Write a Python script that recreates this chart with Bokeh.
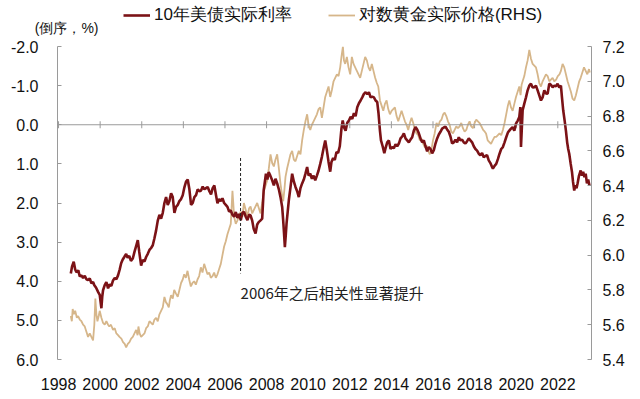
import math
from bokeh.plotting import figure
from bokeh.layouts import column
from bokeh.models import (Range1d, LinearAxis, FixedTicker, PrintfTickFormatter,
                          Span, Label, Legend, LegendItem)
from bokeh.embed import file_html
from bokeh.resources import INLINE

# ---------------- data ----------------
red_name = "10年美债实际利率"
gold_name = "对数黄金实际价格(RHS)"
left_ticks = [-2, -1, 0, 1, 2, 3, 4, 5, 6]
right_ticks = [5.4, 5.6, 5.8, 6.0, 6.2, 6.4, 6.6, 6.8, 7.0, 7.2]
x_ticks = [1998, 2000, 2002, 2004, 2006, 2008, 2010, 2012, 2014, 2016, 2018, 2020, 2022]

red_years = [
    1998.59, 1998.65, 1998.73, 1998.80, 1998.86, 1998.95, 1999.02, 1999.10, 1999.18, 1999.26,
    1999.34, 1999.42, 1999.50, 1999.58, 1999.66, 1999.72, 1999.80, 1999.90, 1999.98, 2000.06,
    2000.10, 2000.14, 2000.22, 2000.30, 2000.38, 2000.46, 2000.54, 2000.62, 2000.70, 2000.78,
    2000.86, 2000.94, 2001.01, 2001.08, 2001.16, 2001.25, 2001.32, 2001.40, 2001.48, 2001.57,
    2001.65, 2001.73, 2001.81, 2001.88, 2001.97, 2002.05, 2002.13, 2002.21, 2002.29, 2002.37,
    2002.45, 2002.53, 2002.61, 2002.69, 2002.77, 2002.85, 2002.93, 2003.01, 2003.09, 2003.17,
    2003.25, 2003.33, 2003.41, 2003.49, 2003.57, 2003.65, 2003.73, 2003.81, 2003.89, 2003.97,
    2004.05, 2004.13, 2004.21, 2004.29, 2004.37, 2004.45, 2004.53, 2004.61, 2004.69, 2004.77,
    2004.85, 2004.93, 2005.01, 2005.09, 2005.17, 2005.25, 2005.33, 2005.41, 2005.49, 2005.57,
    2005.64, 2005.72, 2005.80, 2005.88, 2005.96, 2006.04, 2006.12, 2006.20, 2006.28, 2006.36,
    2006.44, 2006.52, 2006.60, 2006.68, 2006.76, 2006.84, 2006.92, 2007.00, 2007.08, 2007.16,
    2007.23, 2007.31, 2007.38, 2007.47, 2007.55, 2007.62, 2007.70, 2007.79, 2007.86, 2007.92,
    2007.97, 2008.04, 2008.10, 2008.18, 2008.27, 2008.35, 2008.43, 2008.51, 2008.59, 2008.67,
    2008.75, 2008.80, 2008.84, 2008.88, 2008.92, 2008.96, 2009.02, 2009.07, 2009.15, 2009.23,
    2009.31, 2009.39, 2009.47, 2009.55, 2009.63, 2009.71, 2009.79, 2009.87, 2009.95, 2010.02,
    2010.10, 2010.18, 2010.26, 2010.34, 2010.42, 2010.50, 2010.58, 2010.66, 2010.74, 2010.82,
    2010.90, 2010.98, 2011.06, 2011.12, 2011.20, 2011.28, 2011.36, 2011.44, 2011.52, 2011.60,
    2011.66, 2011.72, 2011.80, 2011.88, 2011.96, 2012.04, 2012.12, 2012.20, 2012.28, 2012.36,
    2012.44, 2012.52, 2012.60, 2012.68, 2012.76, 2012.84, 2012.92, 2013.00, 2013.08, 2013.16,
    2013.24, 2013.32, 2013.38, 2013.45, 2013.50, 2013.58, 2013.66, 2013.72, 2013.80, 2013.88,
    2013.96, 2014.04, 2014.12, 2014.20, 2014.28, 2014.36, 2014.44, 2014.52, 2014.60, 2014.68,
    2014.76, 2014.84, 2014.92, 2015.00, 2015.08, 2015.16, 2015.24, 2015.32, 2015.40, 2015.48,
    2015.56, 2015.64, 2015.72, 2015.80, 2015.88, 2015.96, 2016.04, 2016.12, 2016.20, 2016.28,
    2016.36, 2016.44, 2016.52, 2016.60, 2016.68, 2016.76, 2016.84, 2016.92, 2017.00, 2017.08,
    2017.16, 2017.24, 2017.32, 2017.40, 2017.48, 2017.56, 2017.64, 2017.72, 2017.80, 2017.88,
    2017.96, 2018.04, 2018.12, 2018.20, 2018.28, 2018.36, 2018.44, 2018.52, 2018.60, 2018.68,
    2018.76, 2018.84, 2018.88, 2018.96, 2019.04, 2019.12, 2019.20, 2019.28, 2019.36, 2019.44,
    2019.52, 2019.60, 2019.67, 2019.75, 2019.83, 2019.91, 2019.99, 2020.07, 2020.15, 2020.20,
    2020.23, 2020.27, 2020.31, 2020.39, 2020.47, 2020.55, 2020.63, 2020.71, 2020.79, 2020.87,
    2020.95, 2021.03, 2021.11, 2021.19, 2021.27, 2021.35, 2021.43, 2021.51, 2021.59, 2021.67,
    2021.75, 2021.83, 2021.91, 2021.99, 2022.07, 2022.15, 2022.20, 2022.26, 2022.33, 2022.39,
    2022.45, 2022.50, 2022.55, 2022.62, 2022.68, 2022.73, 2022.79, 2022.84, 2022.90, 2022.95,
    2023.02, 2023.10, 2023.16, 2023.22, 2023.28, 2023.34, 2023.40, 2023.46, 2023.52]
red_vals = [
    3.80, 3.62, 3.50, 3.70, 3.77, 3.72, 3.88, 3.85, 3.92, 3.86,
    3.95, 3.97, 3.93, 4.05, 4.02, 4.10, 4.16, 4.27, 4.35, 4.69,
    4.40, 4.23, 4.10, 4.02, 4.18, 4.08, 4.12, 3.98, 3.92, 3.95,
    3.85, 3.70, 3.54, 3.45, 3.38, 3.30, 3.40, 3.35, 3.48, 3.42,
    3.25, 3.10, 2.95, 3.25, 3.60, 3.45, 3.50, 3.38, 3.30, 3.20,
    3.15, 3.08, 2.90, 2.70, 2.45, 2.30, 2.40, 2.25, 2.00, 1.85,
    2.05, 1.95, 1.75, 1.85, 2.25, 2.10, 2.05, 1.95, 1.90, 1.80,
    1.60, 1.45, 1.40, 1.65, 2.05, 2.00, 1.85, 1.80, 1.65, 1.70,
    1.68, 1.58, 1.65, 1.62, 1.59, 1.70, 1.78, 1.62, 1.55, 1.80,
    2.01, 1.90, 1.95, 1.88, 2.00, 2.05, 2.10, 2.22, 2.19, 2.30,
    2.35, 2.23, 2.38, 2.28, 2.44, 2.25, 2.23, 2.35, 2.44, 2.30,
    2.32, 2.45, 2.66, 2.78, 2.55, 2.49, 2.45, 2.40, 1.68, 1.45,
    1.25, 1.40, 1.21, 1.30, 1.42, 1.55, 1.38, 1.50, 1.65, 1.85,
    2.10, 2.45, 2.78, 3.13, 2.85, 2.53, 2.20, 1.93, 1.60, 1.25,
    1.45, 1.59, 1.70, 1.85, 1.62, 1.50, 1.40, 1.25, 1.08, 1.30,
    1.25, 1.38, 1.30, 1.42, 1.30, 1.17, 1.00, 0.82, 0.60, 0.40,
    0.66, 0.95, 1.20, 0.95, 0.85, 0.90, 0.70, 0.72, 0.55, 0.10,
    -0.11, 0.06, 0.15, -0.05, -0.11, -0.20, -0.15, -0.30, -0.22, -0.45,
    -0.55, -0.62, -0.70, -0.79, -0.83, -0.78, -0.83, -0.70, -0.72, -0.70,
    -0.62, -0.58, -0.30, 0.15, 0.40, 0.55, 0.73, 0.60, 0.45, 0.40,
    0.62, 0.57, 0.60, 0.50, 0.55, 0.48, 0.35, 0.30, 0.22, 0.35,
    0.40, 0.45, 0.38, 0.32, 0.15, 0.06, 0.12, 0.22, 0.35, 0.45,
    0.40, 0.55, 0.68, 0.57, 0.62, 0.73, 0.65, 0.48, 0.35, 0.25,
    0.18, 0.10, 0.07, 0.05, 0.12, 0.18, 0.30, 0.48, 0.45, 0.38,
    0.45, 0.32, 0.40, 0.38, 0.45, 0.48, 0.42, 0.35, 0.40, 0.45,
    0.55, 0.62, 0.66, 0.74, 0.78, 0.72, 0.83, 0.80, 0.78, 0.91,
    0.98, 1.08, 1.12, 1.05, 1.00, 0.88, 0.74, 0.62, 0.57, 0.45,
    0.32, 0.20, 0.15, 0.10, 0.06, 0.15, -0.03, -0.10, -0.20, -0.45,
    0.57, 0.10, -0.37, -0.54, -0.70, -0.88, -1.00, -1.05, -0.95, -0.96,
    -1.00, -0.88, -0.75, -0.62, -0.70, -0.88, -0.80, -0.79, -1.05, -1.02,
    -0.96, -1.00, -0.98, -1.05, -0.95, -1.00, -0.70, -0.37, -0.10, 0.15,
    0.45, 0.62, 0.74, 1.00, 1.20, 1.45, 1.68, 1.55, 1.62, 1.50,
    1.30, 1.17, 1.30, 1.20, 1.34, 1.25, 1.50, 1.40, 1.55]

gold_years = [
    1998.59, 1998.64, 1998.68, 1998.74, 1998.80, 1998.88, 1998.94, 1999.02, 1999.10, 1999.18,
    1999.26, 1999.34, 1999.42, 1999.50, 1999.58, 1999.66, 1999.72, 1999.77, 1999.82, 1999.87,
    1999.93, 1999.98, 2000.06, 2000.14, 2000.22, 2000.30, 2000.38, 2000.44, 2000.52, 2000.62,
    2000.70, 2000.78, 2000.86, 2000.93, 2001.02, 2001.10, 2001.18, 2001.25, 2001.33, 2001.41,
    2001.49, 2001.57, 2001.65, 2001.73, 2001.80, 2001.84, 2001.90, 2001.97, 2002.05, 2002.13,
    2002.21, 2002.29, 2002.37, 2002.45, 2002.53, 2002.61, 2002.69, 2002.77, 2002.85, 2002.93,
    2003.01, 2003.09, 2003.16, 2003.22, 2003.30, 2003.35, 2003.41, 2003.49, 2003.56, 2003.64,
    2003.73, 2003.81, 2003.89, 2003.97, 2004.04, 2004.12, 2004.20, 2004.28, 2004.36, 2004.44,
    2004.52, 2004.60, 2004.68, 2004.76, 2004.84, 2004.92, 2005.00, 2005.08, 2005.16, 2005.24,
    2005.32, 2005.40, 2005.48, 2005.56, 2005.64, 2005.72, 2005.80, 2005.88, 2005.96, 2006.04,
    2006.12, 2006.20, 2006.28, 2006.36, 2006.40, 2006.44, 2006.52, 2006.60, 2006.68, 2006.76,
    2006.84, 2006.91, 2007.00, 2007.08, 2007.16, 2007.23, 2007.31, 2007.39, 2007.47, 2007.55,
    2007.63, 2007.71, 2007.79, 2007.87, 2007.95, 2008.03, 2008.11, 2008.19, 2008.27, 2008.35,
    2008.43, 2008.51, 2008.59, 2008.67, 2008.74, 2008.80, 2008.86, 2008.91, 2008.99, 2009.07,
    2009.15, 2009.23, 2009.31, 2009.39, 2009.47, 2009.55, 2009.63, 2009.71, 2009.79, 2009.87,
    2009.95, 2010.02, 2010.10, 2010.18, 2010.26, 2010.34, 2010.42, 2010.50, 2010.58, 2010.66,
    2010.74, 2010.82, 2010.90, 2010.98, 2011.06, 2011.14, 2011.22, 2011.30, 2011.38, 2011.46,
    2011.54, 2011.60, 2011.67, 2011.72, 2011.78, 2011.86, 2011.94, 2012.02, 2012.10, 2012.18,
    2012.26, 2012.34, 2012.42, 2012.50, 2012.58, 2012.66, 2012.74, 2012.82, 2012.90, 2012.98,
    2013.06, 2013.14, 2013.22, 2013.30, 2013.37, 2013.45, 2013.53, 2013.61, 2013.69, 2013.77,
    2013.85, 2013.93, 2014.01, 2014.09, 2014.17, 2014.25, 2014.33, 2014.41, 2014.49, 2014.57,
    2014.65, 2014.73, 2014.81, 2014.89, 2014.97, 2015.05, 2015.13, 2015.21, 2015.29, 2015.37,
    2015.45, 2015.53, 2015.61, 2015.69, 2015.77, 2015.85, 2015.93, 2016.00, 2016.08, 2016.17,
    2016.25, 2016.33, 2016.41, 2016.49, 2016.56, 2016.64, 2016.72, 2016.80, 2016.88, 2016.96,
    2017.04, 2017.12, 2017.20, 2017.28, 2017.36, 2017.44, 2017.52, 2017.60, 2017.68, 2017.76,
    2017.84, 2017.92, 2018.00, 2018.08, 2018.16, 2018.24, 2018.33, 2018.41, 2018.49, 2018.55,
    2018.63, 2018.71, 2018.79, 2018.87, 2018.96, 2019.04, 2019.12, 2019.20, 2019.28, 2019.36,
    2019.44, 2019.52, 2019.60, 2019.67, 2019.75, 2019.83, 2019.91, 2019.99, 2020.07, 2020.15,
    2020.21, 2020.26, 2020.31, 2020.39, 2020.47, 2020.55, 2020.63, 2020.71, 2020.79, 2020.87,
    2020.95, 2021.03, 2021.11, 2021.19, 2021.27, 2021.35, 2021.43, 2021.51, 2021.59, 2021.67,
    2021.75, 2021.83, 2021.92, 2022.00, 2022.08, 2022.15, 2022.23, 2022.31, 2022.39, 2022.47,
    2022.55, 2022.63, 2022.71, 2022.79, 2022.87, 2022.95, 2023.03, 2023.10, 2023.18, 2023.26,
    2023.34, 2023.42, 2023.50, 2023.54]
gold_vals = [
    5.65, 5.62, 5.69, 5.66, 5.68, 5.64, 5.65, 5.63, 5.62, 5.60,
    5.59, 5.56, 5.53, 5.55, 5.53, 5.51, 5.60, 5.75, 5.66, 5.62,
    5.65, 5.68, 5.64, 5.61, 5.60, 5.62, 5.60, 5.59, 5.60, 5.57,
    5.58, 5.55, 5.54, 5.53, 5.52, 5.50, 5.49, 5.47, 5.49, 5.50,
    5.52, 5.53, 5.55, 5.57, 5.54, 5.59, 5.55, 5.53, 5.54, 5.55,
    5.58, 5.59, 5.62, 5.61, 5.60, 5.63, 5.64, 5.62, 5.66, 5.68,
    5.70, 5.76, 5.73, 5.72, 5.70, 5.74, 5.77, 5.75, 5.80, 5.78,
    5.76, 5.80, 5.84, 5.86, 5.89, 5.87, 5.91, 5.86, 5.82, 5.84,
    5.85, 5.83, 5.86, 5.88, 5.93, 5.90, 5.95, 5.92, 5.89, 5.90,
    5.87, 5.88, 5.90, 5.87, 5.89, 5.92, 5.95, 6.00, 6.05, 6.08,
    6.12, 6.15, 6.18, 6.37, 6.30, 6.22, 6.18, 6.20, 6.23, 6.25,
    6.22, 6.30, 6.26, 6.22, 6.27, 6.28, 6.24, 6.26, 6.28, 6.30,
    6.27, 6.24, 6.30, 6.37, 6.40, 6.43, 6.50, 6.58, 6.53, 6.51,
    6.55, 6.58, 6.50, 6.41, 6.35, 6.31, 6.38, 6.45, 6.50, 6.54,
    6.58, 6.60, 6.55, 6.54, 6.57, 6.60, 6.58, 6.66, 6.72, 6.77,
    6.81, 6.75, 6.72, 6.75, 6.77, 6.79, 6.81, 6.84, 6.85, 6.79,
    6.85, 6.91, 6.94, 6.97, 6.91, 6.95, 7.00, 7.02, 7.04, 7.03,
    7.08, 7.14, 7.20, 7.12, 7.10, 7.14, 7.08, 7.04, 7.14, 7.10,
    7.08, 7.06, 7.04, 7.02, 7.06, 7.10, 7.14, 7.12, 7.08, 7.06,
    7.10, 7.06, 7.02, 6.99, 6.97, 6.89, 6.86, 6.83, 6.87, 6.89,
    6.84, 6.81, 6.83, 6.84, 6.85, 6.80, 6.77, 6.80, 6.83, 6.80,
    6.77, 6.75, 6.72, 6.76, 6.79, 6.76, 6.72, 6.70, 6.69, 6.66,
    6.67, 6.64, 6.62, 6.63, 6.60, 6.58, 6.61, 6.66, 6.70, 6.76,
    6.74, 6.77, 6.78, 6.81, 6.82, 6.80, 6.77, 6.75, 6.71, 6.70,
    6.72, 6.74, 6.73, 6.74, 6.76, 6.73, 6.71, 6.72, 6.75, 6.77,
    6.74, 6.73, 6.76, 6.78, 6.77, 6.76, 6.74, 6.72, 6.71, 6.70,
    6.66, 6.65, 6.64, 6.66, 6.68, 6.68, 6.69, 6.70, 6.69, 6.72,
    6.76, 6.81, 6.86, 6.89, 6.85, 6.83, 6.87, 6.91, 6.94, 6.97,
    6.92, 6.98, 7.00, 7.03, 7.08, 7.12, 7.18, 7.13, 7.10, 7.09,
    7.08, 7.04, 6.99, 6.97, 7.00, 7.02, 7.04, 7.03, 7.00, 7.01,
    7.02, 7.00, 7.01, 7.03, 7.04, 7.06, 7.10, 7.08, 7.04, 7.00,
    6.97, 6.94, 6.90, 6.89, 6.92, 6.96, 7.00, 7.02, 7.05, 7.08,
    7.06, 7.04, 7.07, 7.05]

annot_year = 2006.75
annot_top, annot_bottom = 0.85, 3.8
annot_text = "2006年之后相关性显著提升"
unit_text = "(倒序，%)"

# ---------------- styles ----------------
RED = "#7B1216"
TAN = "#D6B68A"
AXIS = "#9A9A9A"
LATIN = "Liberation Sans"
CJK = "Noto Sans CJK SC"
HEAD_H = 36

# ---------------- header strip: unit text + legend ----------------
# (its frame is aligned with the main chart's frame by the column layout)
head = figure(width=640, height=HEAD_H, output_backend="svg", toolbar_location=None,
              x_range=Range1d(0, 1), y_range=Range1d(HEAD_H, 0),
              x_axis_type=None, y_axis_type=None,
              min_border_left=57, min_border_right=49, min_border_top=0, min_border_bottom=0)
head.xgrid.visible = False
head.ygrid.visible = False
head.outline_line_color = None
head.background_fill_color = "white"
head.border_fill_color = "white"

# legend key renderers (kept off-screen; only their legend swatches show)
red_key = head.line(x=[-10, -9], y=[-10, -10], line_color=RED, line_width=2.6)
tan_key = head.line(x=[-10, -9], y=[-10, -10], line_color=TAN, line_width=1.8)

# unit text as the single label of an unlined axis in the header's left panel
unit_axis = LinearAxis(ticker=FixedTicker(ticks=[27]), major_label_overrides={27: unit_text})
unit_axis.axis_line_color = None
unit_axis.major_tick_line_color = None
unit_axis.minor_tick_line_color = None
unit_axis.major_tick_in = 0
unit_axis.major_tick_out = 0
unit_axis.major_label_standoff = -41
unit_axis.major_label_text_font = LATIN
unit_axis.major_label_text_font_size = "14px"
unit_axis.major_label_text_color = "#111111"
head.add_layout(unit_axis, "left")

legend = Legend(items=[LegendItem(label=red_name, renderers=[red_key]),
                       LegendItem(label=gold_name, renderers=[tan_key])],
                orientation="horizontal", location=(66, HEAD_H - 26), padding=0, margin=0,
                spacing=36, glyph_width=27, glyph_height=16, label_height=16,
                label_standoff=4, border_line_color=None, background_fill_alpha=0,
                label_text_font=LATIN, label_text_font_size="17px",
                label_text_color="#111111")
head.add_layout(legend)

# ---------------- main chart ----------------
X0, X1 = 1997.95, 2023.62
p = figure(width=640, height=399 - HEAD_H, output_backend="svg", toolbar_location=None,
           x_range=Range1d(X0, X1), y_range=Range1d(6, -2),
           min_border_left=57, min_border_right=49, min_border_top=46 - HEAD_H,
           min_border_bottom=40)
p.extra_y_ranges = {"rhs": Range1d(5.4, 7.2)}
p.xgrid.visible = False
p.ygrid.visible = False
p.outline_line_color = None
p.background_fill_color = "white"
p.border_fill_color = "white"

xa = p.xaxis[0]
xa.ticker = FixedTicker(ticks=x_ticks)
xa.formatter = PrintfTickFormatter(format="%d")
xa.axis_line_color = None
xa.major_tick_line_color = None
xa.minor_tick_line_color = None
xa.major_label_standoff = 12
xa.major_label_text_font = LATIN
xa.major_label_text_font_size = "16px"
xa.major_label_text_color = "#111111"

ya = p.yaxis[0]
ya.ticker = FixedTicker(ticks=left_ticks)
ya.formatter = PrintfTickFormatter(format="%.1f")
ya.axis_line_color = AXIS
ya.major_tick_line_color = AXIS
ya.major_tick_in = 4
ya.major_tick_out = 0
ya.minor_tick_line_color = None
ya.major_label_standoff = 19
ya.major_label_text_font = LATIN
ya.major_label_text_font_size = "16px"
ya.major_label_text_color = "#111111"

ra = LinearAxis(y_range_name="rhs", ticker=FixedTicker(ticks=right_ticks),
                formatter=PrintfTickFormatter(format="%.1f"))
ra.axis_line_color = AXIS
ra.major_tick_line_color = AXIS
ra.major_tick_in = 4
ra.major_tick_out = 0
ra.minor_tick_line_color = None
ra.major_label_standoff = 11
ra.major_label_text_font = LATIN
ra.major_label_text_font_size = "16px"
ra.major_label_text_color = "#111111"
p.add_layout(ra, "right")

p.add_layout(Span(location=0, dimension="width", line_color=AXIS, line_width=1))
p.scatter(x=x_ticks, y=[0] * len(x_ticks), marker="dash", angle=math.pi / 2,
          size=7, line_color=AXIS, line_width=1)

p.line(gold_years, gold_vals, y_range_name="rhs", line_color=TAN, line_width=1.8)
p.line(red_years, red_vals, line_color=RED, line_width=2.6)

p.segment(x0=[annot_year], y0=[annot_top], x1=[annot_year], y1=[annot_bottom],
          line_color="#222222", line_width=1, line_dash="3 2")
p.add_layout(Label(x=annot_year, y=4.3, text=annot_text, text_font=CJK,
                   text_font_size="15px", text_baseline="middle", text_color="#222222"))

layout = column(head, p, spacing=0)
open("out.html", "w").write(file_html(layout, INLINE))
